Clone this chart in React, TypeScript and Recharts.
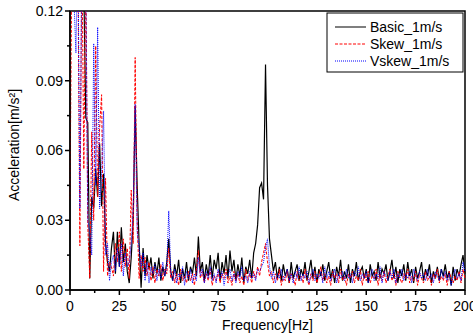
import React from 'react';
import { LineChart, Line, XAxis, YAxis, ReferenceArea, Label } from 'recharts';

// spectrum amplitude [m/s^2], one value per Hz from 0 to 200
const basic = [
  0.14, 0.15, 0.16, 0.14, 0.15, 0.16, 0.14, 0.13, 0.074, 0.072,
  0.005, 0.04, 0.035, 0.052, 0.04, 0.063, 0.036, 0.05, 0.02, 0.012,
  0.008, 0.018, 0.025, 0.007, 0.025, 0.01, 0.027, 0.012, 0.02, 0.008,
  0.003, 0.014, 0.03, 0.079, 0.045, 0.02, 0.001, 0.018, 0.006, 0.015,
  0.009, 0.014, 0.005, 0.012, 0.007, 0.014, 0.004, 0.01, 0.006, 0.012,
  0.022, 0.008, 0.004, 0.011, 0.006, 0.013, 0.003, 0.009, 0.005, 0.012,
  0.004, 0.01, 0.007, 0.014, 0.006, 0.023, 0.008, 0.012, 0.004, 0.011,
  0.006, 0.015, 0.005, 0.013, 0.009, 0.016, 0.004, 0.012, 0.007, 0.015,
  0.005, 0.017, 0.008, 0.013, 0.004, 0.011, 0.006, 0.014, 0.003, 0.01,
  0.007, 0.013, 0.005, 0.016, 0.02, 0.028, 0.044, 0.046, 0.039, 0.097,
  0.045, 0.022, 0.015, 0.008, 0.012, 0.005, 0.01, 0.004, 0.011, 0.006,
  0.009, 0.003, 0.012, 0.005, 0.008, 0.011, 0.004, 0.009, 0.006, 0.012,
  0.004, 0.008, 0.013, 0.005, 0.01, 0.003, 0.009, 0.006, 0.011, 0.004,
  0.008, 0.012, 0.005, 0.009, 0.003, 0.01, 0.006, 0.013, 0.004, 0.008,
  0.005, 0.011, 0.003, 0.009, 0.006, 0.012, 0.004, 0.008, 0.01, 0.005,
  0.009, 0.003, 0.011, 0.006, 0.008, 0.004, 0.012, 0.005, 0.009, 0.007,
  0.011, 0.004, 0.008, 0.013, 0.005, 0.01, 0.003, 0.009, 0.006, 0.011,
  0.004, 0.012, 0.006, 0.009, 0.003, 0.01, 0.005, 0.008, 0.012, 0.004,
  0.009, 0.006, 0.011, 0.003, 0.008, 0.005, 0.01, 0.004, 0.009, 0.006,
  0.011, 0.005, 0.008, 0.002, 0.01, 0.004, 0.009, 0.006, 0.011, 0.015,
  0.007,
];

const skew = [
  0.039, 0.15, 0.14, 0.13, 0.14, 0.019, 0.15, 0.052, 0.14, 0.028,
  0.005, 0.068, 0.03, 0.105, 0.04, 0.07, 0.084, 0.008, 0.048, 0.006,
  0.012, 0.01, 0.006, 0.02, 0.012, 0.025, 0.008, 0.022, 0.01, 0.018,
  0.005, 0.043, 0.02, 0.1, 0.03, 0.005, 0.015, 0.008, 0.014, 0.006,
  0.012, 0.004, 0.01, 0.003, 0.009, 0.006, 0.011, 0.004, 0.009, 0.007,
  0.018, 0.005, 0.008, 0.003, 0.007, 0.002, 0.009, 0.004, 0.006, 0.003,
  0.008, 0.004, 0.007, 0.002, 0.009, 0.017, 0.005, 0.008, 0.003, 0.007,
  0.004, 0.009, 0.002, 0.006, 0.004, 0.008, 0.003, 0.007, 0.005, 0.009,
  0.003, 0.006, 0.002, 0.008, 0.004, 0.007, 0.003, 0.006, 0.002, 0.009,
  0.004, 0.007, 0.003, 0.008, 0.005, 0.01, 0.006, 0.012, 0.016, 0.02,
  0.012, 0.006, 0.008, 0.003, 0.007, 0.004, 0.009, 0.002, 0.006, 0.004,
  0.008, 0.003, 0.007, 0.005, 0.002, 0.008, 0.004, 0.006, 0.003, 0.009,
  0.005, 0.002, 0.007, 0.004, 0.008, 0.003, 0.006, 0.01, 0.004, 0.007,
  0.003, 0.006, 0.002, 0.008, 0.005, 0.007, 0.003, 0.009, 0.004, 0.006,
  0.002, 0.007, 0.005, 0.008, 0.003, 0.006, 0.004, 0.009, 0.002, 0.007,
  0.004, 0.008, 0.003, 0.006, 0.005, 0.009, 0.002, 0.007, 0.004, 0.008,
  0.003, 0.006, 0.009, 0.004, 0.007, 0.002, 0.008, 0.005, 0.003, 0.007,
  0.005, 0.009, 0.003, 0.006, 0.004, 0.008, 0.002, 0.007, 0.005, 0.003,
  0.008, 0.004, 0.006, 0.002, 0.007, 0.005, 0.009, 0.003, 0.006, 0.004,
  0.007, 0.002, 0.008, 0.005, 0.003, 0.006, 0.004, 0.008, 0.003, 0.009,
  0.005,
];

const vskew = [
  0.14, 0.13, 0.125, 0.102, 0.15, 0.035, 0.14, 0.16, 0.13, 0.03,
  0.025, 0.015, 0.106, 0.045, 0.113, 0.035, 0.05, 0.077, 0.015, 0.02,
  0.004, 0.012, 0.015, 0.008, 0.018, 0.01, 0.02, 0.006, 0.016, 0.01,
  0.012, 0.02, 0.035, 0.08, 0.025, 0.018, 0.01, 0.016, 0.004, 0.012,
  0.003, 0.01, 0.007, 0.011, 0.004, 0.009, 0.005, 0.012, 0.006, 0.01,
  0.034, 0.008, 0.004, 0.009, 0.003, 0.007, 0.005, 0.01, 0.002, 0.008,
  0.005, 0.009, 0.003, 0.007, 0.004, 0.014, 0.006, 0.009, 0.003, 0.008,
  0.005, 0.01, 0.004, 0.007, 0.003, 0.009, 0.005, 0.008, 0.002, 0.007,
  0.006, 0.009, 0.004, 0.007, 0.003, 0.008, 0.005, 0.01, 0.004, 0.006,
  0.003, 0.008, 0.005, 0.007, 0.004, 0.009, 0.008, 0.01, 0.012, 0.018,
  0.022, 0.01, 0.005, 0.008, 0.003, 0.007, 0.005, 0.009, 0.004, 0.006,
  0.009, 0.004, 0.007, 0.003, 0.008, 0.005, 0.01, 0.004, 0.007, 0.005,
  0.008, 0.003, 0.006, 0.009, 0.004, 0.007, 0.005, 0.008, 0.003, 0.01,
  0.005, 0.008, 0.004, 0.006, 0.009, 0.003, 0.007, 0.005, 0.008, 0.004,
  0.009, 0.005, 0.007, 0.003, 0.008, 0.006, 0.01, 0.004, 0.007, 0.005,
  0.008, 0.003, 0.006, 0.009, 0.004, 0.007, 0.005, 0.01, 0.003, 0.008,
  0.006, 0.004, 0.008, 0.005, 0.009, 0.003, 0.007, 0.005, 0.009, 0.004,
  0.007, 0.005, 0.008, 0.003, 0.009, 0.006, 0.004, 0.008, 0.005, 0.007,
  0.004, 0.009, 0.005, 0.007, 0.003, 0.008, 0.006, 0.004, 0.009, 0.005,
  0.008, 0.004, 0.007, 0.002, 0.006, 0.009, 0.005, 0.007, 0.004, 0.012,
  0.008,
];

const xTicks = [0, 12.5, 25, 37.5, 50, 62.5, 75, 87.5, 100, 112.5, 125, 137.5, 150, 162.5, 175, 187.5, 200];
const yTicks = [0, 0.015, 0.03, 0.045, 0.06, 0.075, 0.09, 0.105, 0.12];
const seriesNames = ['Basic_1m/s', 'Skew_1m/s', 'Vskew_1m/s'];

const FONT = '"Liberation Sans", Arial, sans-serif';

const data = basic.map((b, i) => ({ freq: i, basic: b, skew: skew[i], vskew: vskew[i] }));

const XTick = ({ x, y, payload }: any) => {
  const major = payload.value % 25 === 0;
  const axisY = y - 5 - 6;
  return (
    <g>
      <line x1={x} x2={x} y1={axisY} y2={axisY + (major ? 5 : 3)} stroke="#000" strokeWidth={1.5} />
      {major && (
        <text x={x} y={y} dy="0.71em" textAnchor="middle" fontSize={14} fontFamily={FONT} fill="#000">
          {payload.value}
        </text>
      )}
    </g>
  );
};

const YTick = ({ x, y, payload }: any) => {
  const major = Math.round(payload.value * 1000) % 30 === 0;
  const axisX = x + 5 + 2;
  return (
    <g>
      <line x1={axisX - (major ? 5 : 3)} x2={axisX} y1={y} y2={y} stroke="#000" strokeWidth={1.5} />
      {major && (
        <text x={x} y={y} dy="0.35em" textAnchor="end" fontSize={14} fontFamily={FONT} fill="#000">
          {payload.value.toFixed(2)}
        </text>
      )}
    </g>
  );
};

const LegendBox = () => (
  <svg width={140} height={62} style={{ position: 'absolute', left: 326, top: 12 }}>
    <rect x={1} y={1} width={136} height={59} fill="#fff" stroke="#000" strokeWidth={1} />
    <line x1={9} x2={40} y1={15} y2={15} stroke="#555" strokeWidth={1.5} />
    <line x1={9} x2={40} y1={32} y2={32} stroke="#ff0000" strokeWidth={1} strokeDasharray="3 1.5" />
    <line x1={9} x2={40} y1={49} y2={49} stroke="#0000ff" strokeWidth={1} strokeDasharray="1 1" />
    {seriesNames.map((n, i) => (
      <text key={n} x={44} y={15 + i * 17} dy="0.35em" fontSize={14} fontFamily={FONT} fill="#000">
        {n}
      </text>
    ))}
  </svg>
);

export default function App() {
  return (
    <div style={{ position: 'absolute', left: 0, top: 0, width: 473, height: 335, background: '#fff' }}>
      <LineChart width={473} height={335} data={data} margin={{ top: 11, right: 8, left: 8, bottom: 0 }}>
        <XAxis
          dataKey="freq"
          type="number"
          domain={[0, 200]}
          ticks={xTicks}
          interval={0}
          tickSize={5}
          tickMargin={6}
          tickLine={false}
          tick={<XTick />}
          axisLine={{ stroke: '#000', strokeWidth: 1.5 }}
          height={45}
        >
          <Label
            content={({ viewBox }: any) => (
              <text
                x={viewBox.x + viewBox.width / 2}
                y={325}
                dy="0.35em"
                textAnchor="middle"
                fontSize={14}
                fontFamily={FONT}
                fill="#000"
              >
                Frequency[Hz]
              </text>
            )}
          />
        </XAxis>
        <YAxis
          type="number"
          domain={[0, 0.12]}
          allowDataOverflow
          ticks={yTicks}
          interval={0}
          tickSize={5}
          tickMargin={2}
          tickLine={false}
          tick={<YTick />}
          axisLine={{ stroke: '#000', strokeWidth: 1.5 }}
          width={62}
        >
          <Label
            content={({ viewBox }: any) => (
              <text
                x={14}
                y={145}
                dy="0.35em"
                textAnchor="middle"
                fontSize={14}
                fontFamily={FONT}
                fill="#000"
                transform={`rotate(-90, 14, 145)`}
              >
                Acceleration[m/s²]
              </text>
            )}
          />
        </YAxis>
        <ReferenceArea x1={0} x2={200} y1={0} y2={0.12} fill="none" stroke="#000" strokeWidth={1.5} />
        <Line dataKey="basic" stroke="#000" strokeWidth={1.2} dot={false} isAnimationActive={false} />
        <Line dataKey="skew" stroke="#ff0000" strokeWidth={1} strokeDasharray="3 1.5" dot={false} isAnimationActive={false} />
        <Line dataKey="vskew" stroke="#0000ff" strokeWidth={1} strokeDasharray="1 1" dot={false} isAnimationActive={false} />
      </LineChart>
      <LegendBox />
    </div>
  );
}
